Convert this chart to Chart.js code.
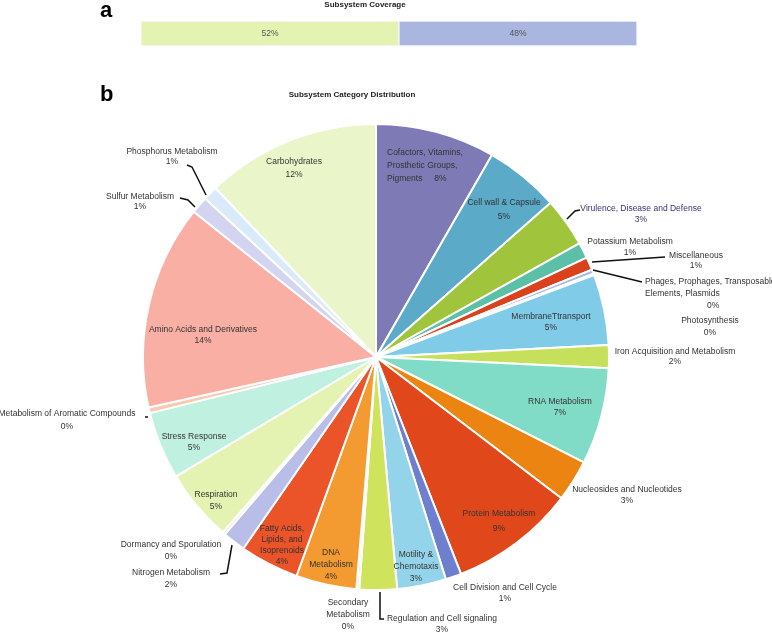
<!DOCTYPE html>
<html>
<head>
<meta charset="utf-8">
<script src="https://cdn.jsdelivr.net/npm/chart.js@4.4.1/dist/chart.umd.min.js"></script>
<style>
  body { margin: 0; background: #fff; }
  #wrap { position: relative; width: 772px; height: 633px; }
  #coverChart { position: absolute; left: 0; top: 0; }
  #pieChart { position: absolute; left: 0; top: 70px; }
</style>
</head>
<body>
<div id="wrap">
  <canvas id="coverChart" width="772" height="60"></canvas>
  <canvas id="pieChart" width="772" height="563"></canvas>
</div>
<script>
// Панель a: покрытие подсистемами
const coverageLabels = ['In subsystem', 'Not in subsystem'];
const coverageValues = [52, 48];
const coverageColors = ['#e5f3b2', '#aab6e0'];

// Панель b: распределение по категориям (по часовой стрелке от 12 часов)
const categories = [
  'Cofactors, Vitamins, Prosthetic Groups, Pigments',
  'Cell wall & Capsule',
  'Virulence, Disease and Defense',
  'Potassium Metabolism',
  'Miscellaneous',
  'Phages, Prophages, Transposable Elements, Plasmids',
  'Photosynthesis',
  'MembraneTtransport',
  'Iron Acquisition and Metabolism',
  'RNA Metabolism',
  'Nucleosides and Nucleotides',
  'Protein Metabolism',
  'Cell Division and Cell Cycle',
  'Motility & Chemotaxis',
  'Regulation and Cell signaling',
  'Secondary Metabolism',
  'DNA Metabolism',
  'Fatty Acids, Lipids, and Isoprenoids',
  'Nitrogen Metabolism',
  'Dormancy and Sporulation',
  'Respiration',
  'Stress Response',
  'Metabolism of Aromatic Compounds',
  'Amino Acids and Derivatives',
  'Sulfur Metabolism',
  'Phosphorus Metabolism',
  'Carbohydrates'
];
const shares = [8.3, 5.2, 3.4, 1.1, 0.9, 0.3, 0.1, 4.9, 1.6, 6.7, 2.9, 8.7, 1.1, 3.4,
                2.6, 0.2, 4.2, 4.1, 1.6, 0.2, 5.0, 4.7, 0.4, 14.2, 1.2, 1.0, 12.1];
const sliceColors = [
  '#7e7ab6', '#5aaac8', '#a0c53c', '#5cbfa8', '#d9421c', '#a9b9e6', '#e9eef8',
  '#80cbe8', '#c6e05c', '#80dcc6', '#ec8412', '#e0481b', '#6f7fd0', '#94d4ea',
  '#d0e35c', '#f4f2c0', '#f39b30', '#ea5428', '#b9bee9', '#f2ecd8', '#e4f2b2',
  '#c0f0e0', '#f9c9b0', '#f9afa4', '#d3d4f0', '#d9ebf9', '#eaf6ca'
];

// Подписи: смещения от центра круга (px), {p} = процент
const labelSpots = [
  { x: 11, y: -204, lh: 13, align: 'left', lines: ['Cofactors, Vitamins,', 'Prosthetic Groups,', 'Pigments     {p}'] },
  { x: 128, y: -154, lh: 14, lines: ['Cell wall & Capsule', '{p}'] },
  { x: 265, y: -148, lh: 11, color: '#33337a', lines: ['Virulence, Disease and Defense', '{p}'],
    leader: [[191, -138], [199, -146], [204, -147]] },
  { x: 254, y: -115, lh: 11, lines: ['Potassium Metabolism', '{p}'] },
  { x: 320, y: -101, lh: 10, lines: ['Miscellaneous', '{p}'], leader: [[216, -95], [289, -100]] },
  { x: 269, y: -75, lh: 12, align: 'left', dx: [0, 0, 62],
    lines: ['Phages, Prophages, Transposable', 'Elements, Plasmids', '{p}'], leader: [[217, -87], [266, -75]] },
  { x: 334, y: -36, lh: 12, lines: ['Photosynthesis', '{p}'] },
  { x: 175, y: -40, lh: 11, lines: ['MembraneTtransport', '{p}'] },
  { x: 299, y: -5, lh: 10, lines: ['Iron Acquisition and Metabolism', '{p}'] },
  { x: 184, y: 45, lh: 11, lines: ['RNA Metabolism', '{p}'] },
  { x: 251, y: 133, lh: 11, lines: ['Nucleosides and Nucleotides', '{p}'] },
  { x: 123, y: 157, lh: 15, lines: ['Protein Metabolism', '{p}'] },
  { x: 129, y: 231, lh: 11, lines: ['Cell Division and Cell Cycle', '{p}'] },
  { x: 40, y: 198, lh: 12, lines: ['Motility &', 'Chemotaxis', '{p}'] },
  { x: 66, y: 262, lh: 11, lines: ['Regulation and Cell signaling', '{p}'],
    leader: [[4, 235], [4, 262], [8, 262]] },
  { x: -28, y: 246, lh: 12, lines: ['Secondary', 'Metabolism', '{p}'] },
  { x: -45, y: 196, lh: 12, lines: ['DNA', 'Metabolism', '{p}'] },
  { x: -94, y: 172, lh: 11, lines: ['Fatty Acids,', 'Lipids, and', 'Isoprenoids', '{p}'] },
  { x: -205, y: 216, lh: 12, lines: ['Nitrogen Metabolism', '{p}'],
    leader: [[-144, 188], [-149, 216], [-156, 217]] },
  { x: -205, y: 188, lh: 12, lines: ['Dormancy and Sporulation', '{p}'] },
  { x: -160, y: 138, lh: 12, lines: ['Respiration', '{p}'] },
  { x: -182, y: 80, lh: 11, lines: ['Stress Response', '{p}'] },
  { x: -309, y: 57, lh: 13, lines: ['Metabolism of Aromatic Compounds', '{p}'], leader: [[-231, 60], [-228, 60]] },
  { x: -173, y: -27, lh: 11, lines: ['Amino Acids and Derivatives', '{p}'] },
  { x: -236, y: -160, lh: 10, lines: ['Sulfur Metabolism', '{p}'],
    leader: [[-196, -159], [-188, -157], [-181, -150]] },
  { x: -204, y: -205, lh: 10, lines: ['Phosphorus Metabolism', '{p}'],
    leader: [[-189, -192], [-184, -190], [-170, -162]] }
  ,
  { x: -82, y: -195, lh: 13, lines: ['Carbohydrates', '{p}'] }
];

const FONT = '"Liberation Sans", Arial, sans-serif';

// Буква панели и заголовок
const headingPlugin = {
  id: 'heading',
  afterDraw(chart, args, opts) {
    const ctx = chart.ctx;
    ctx.save();
    ctx.fillStyle = '#000';
    ctx.textBaseline = 'alphabetic';
    ctx.textAlign = 'left';
    ctx.font = 'bold 22px ' + FONT;
    ctx.fillText(opts.letter, opts.lx, opts.ly);
    ctx.font = 'bold 8px ' + FONT;
    ctx.textAlign = 'center';
    ctx.textBaseline = 'middle';
    ctx.fillStyle = '#222';
    ctx.fillText(opts.title, opts.tx, opts.ty);
    ctx.restore();
  }
};

// Проценты внутри полосы
const barText = {
  id: 'barText',
  afterDatasetsDraw(chart) {
    const ctx = chart.ctx;
    ctx.save();
    ctx.font = '8.5px ' + FONT;
    ctx.fillStyle = '#555';
    ctx.textAlign = 'center';
    ctx.textBaseline = 'middle';
    chart.data.datasets.forEach((ds, i) => {
      const bar = chart.getDatasetMeta(i).data[0];
      ctx.fillText(ds.data[0] + '%', (bar.x + bar.base) / 2, bar.y);
    });
    ctx.restore();
  }
};

// Подписи секторов и выноски
const sliceText = {
  id: 'sliceText',
  afterDatasetsDraw(chart) {
    const ctx = chart.ctx;
    const arcs = chart.getDatasetMeta(0).data;
    const vals = chart.data.datasets[0].data;
    const total = vals.reduce((a, b) => a + b, 0);
    ctx.save();
    arcs.forEach((arc, i) => {
      const spot = labelSpots[i];
      const cx = arc.x, cy = arc.y;
      const pct = Math.round(vals[i] / total * 100) + '%';
      if (spot.leader) {
        ctx.beginPath();
        spot.leader.forEach(([dx, dy], k) => {
          if (k === 0) ctx.moveTo(cx + dx, cy + dy);
          else ctx.lineTo(cx + dx, cy + dy);
        });
        ctx.strokeStyle = '#111';
        ctx.lineWidth = 1.5;
        ctx.stroke();
      }
      ctx.font = '8.5px ' + FONT;
      ctx.fillStyle = spot.color || '#333';
      ctx.textAlign = spot.align || 'center';
      ctx.textBaseline = 'middle';
      spot.lines.forEach((t, k) => {
        const off = spot.dx ? spot.dx[k] : 0;
        ctx.fillText(t.replace('{p}', pct), cx + spot.x + off, cy + spot.y + k * spot.lh);
      });
    });
    ctx.restore();
  }
};

new Chart(document.getElementById('coverChart'), {
  type: 'bar',
  data: {
    labels: ['Subsystem Coverage'],
    datasets: coverageValues.map((v, i) => ({
      label: coverageLabels[i],
      data: [v],
      backgroundColor: coverageColors[i],
      borderColor: '#f6f8fc',
      borderWidth: 1,
      borderSkipped: false,
      barPercentage: 1,
      categoryPercentage: 1
    }))
  },
  options: {
    indexAxis: 'y',
    responsive: false,
    animation: false,
    layout: { padding: { left: 141, right: 135, top: 21, bottom: 14 } },
    scales: {
      x: { stacked: true, min: 0, max: 100, display: false },
      y: { stacked: true, display: false }
    },
    plugins: {
      legend: { display: false },
      tooltip: { enabled: false },
      heading: { letter: 'a', lx: 100, ly: 17, title: 'Subsystem Coverage', tx: 365, ty: 5 }
    }
  },
  plugins: [barText, headingPlugin]
});

new Chart(document.getElementById('pieChart'), {
  type: 'pie',
  data: {
    labels: categories,
    datasets: [{
      data: shares,
      backgroundColor: sliceColors,
      borderColor: '#ffffff',
      borderWidth: 2,
      radius: 233
    }]
  },
  options: {
    responsive: false,
    animation: false,
    layout: { padding: { left: 100, right: 120, top: 40, bottom: 29 } },
    plugins: {
      legend: { display: false },
      tooltip: { enabled: false },
      heading: { letter: 'b', lx: 100, ly: 31, title: 'Subsystem Category Distribution', tx: 352, ty: 25 }
    }
  },
  plugins: [sliceText, headingPlugin]
});
</script>
</body>
</html>
